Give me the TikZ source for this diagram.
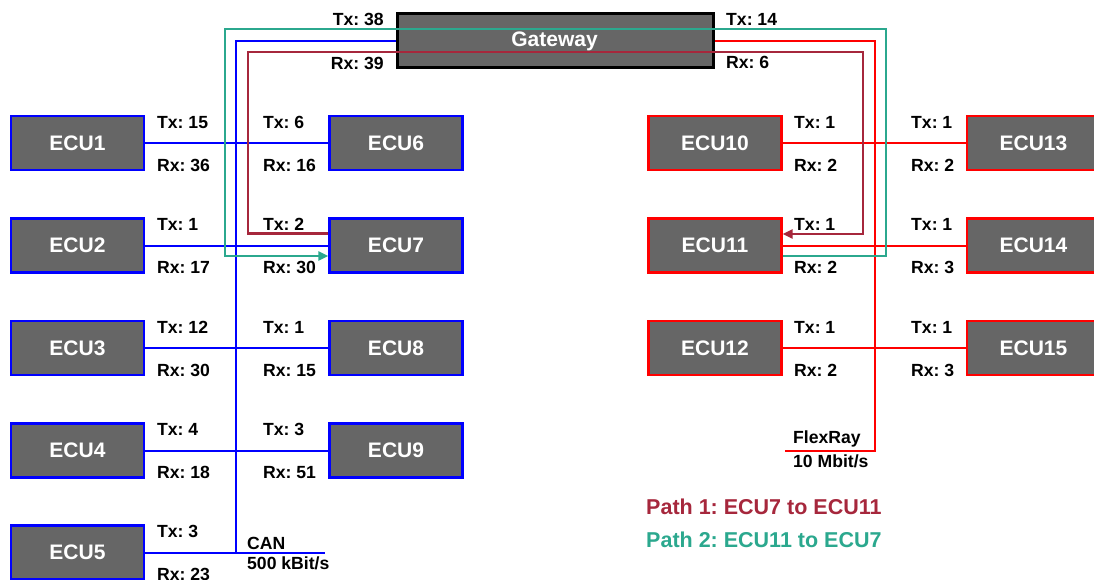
\documentclass[tikz,border=0pt]{standalone}
\usepackage{fontspec}
\setmainfont{Liberation Sans}
\usetikzlibrary{arrows.meta}

\definecolor{ecufill}{HTML}{666666}
\definecolor{canblue}{HTML}{0000FF}
\definecolor{frred}{HTML}{FF0000}
\definecolor{pathone}{HTML}{A6273C}
\definecolor{pathtwo}{HTML}{2BA88E}

\pgfdeclarelayer{bg}
\pgfsetlayers{bg,main}

\begin{document}
\frenchspacing
\begin{tikzpicture}[x=1pt,y=-1pt,
  ecu/.style={draw, line width=2.2pt, fill=ecufill, minimum width=133pt,
    minimum height=54pt, inner sep=0pt, text=white,
    font=\bfseries\fontsize{21}{25}\selectfont},
  canecu/.style={ecu, draw=canblue},
  frecu/.style={ecu, draw=frred},
  gwbox/.style={ecu, draw=black, minimum width=316pt},
  lbl/.style={anchor=base west, inner sep=0pt, font=\bfseries\fontsize{17.6}{20}\selectfont},
  lblr/.style={lbl, anchor=base east},
  legend/.style={anchor=base west, inner sep=0pt, font=\bfseries\fontsize{21.5}{25}\selectfont},
  canbus/.style={draw=canblue, line width=2pt},
  frbus/.style={draw=frred, line width=2pt},
  pone/.style={draw=pathone, line width=2.4pt, -{Triangle[length=10pt,width=9pt]}},
  ptwo/.style={draw=pathtwo, line width=2.4pt, -{Triangle[length=10pt,width=9pt]}},
]
\useasboundingbox (0,0) rectangle (1094,579);

% gateway
\node[gwbox] (GW) at (555.5,40.5) {};
\node[inner sep=0pt, anchor=base, text=white, font=\bfseries\fontsize{21}{25}\selectfont] (GWtext) at (554.5,46) {Gateway};

% CAN side ECUs
\node[canecu] (ECU1) at (77.5,143) {ECU1};
\node[canecu] (ECU2) at (77.5,245.5) {ECU2};
\node[canecu] (ECU3) at (77.5,348) {ECU3};
\node[canecu] (ECU4) at (77.5,450.5) {ECU4};
\node[canecu] (ECU5) at (77.5,552.5) {ECU5};
\node[canecu] (ECU6) at (396,143) {ECU6};
\node[canecu] (ECU7) at (396,245.5) {ECU7};
\node[canecu] (ECU8) at (396,348) {ECU8};
\node[canecu] (ECU9) at (396,450.5) {ECU9};

% FlexRay side ECUs
\node[frecu] (ECU10) at (715,143) {ECU10};
\node[frecu] (ECU11) at (715,245.5) {ECU11};
\node[frecu] (ECU12) at (715,348) {ECU12};
\node[frecu] (ECU13) at (1033.5,143) {ECU13};
\node[frecu] (ECU14) at (1033.5,245.5) {ECU14};
\node[frecu] (ECU15) at (1033.5,348) {ECU15};

% bus corner points
\coordinate (canTop) at (236,40.5);
\coordinate (canBot) at (236,552.5);
\coordinate (canEnd) at (325,552.5);
\coordinate (frTop) at (875,40.5);
\coordinate (frBot) at (875,450.5);
\coordinate (frEnd) at (785,450.5);

\begin{pgfonlayer}{bg}
  \draw[canbus] (GW.west) -- (canTop) -- (canBot) -- (canEnd);
  \draw[canbus] (ECU1.east) -- (ECU6.west);
  \draw[canbus] (ECU2.east) -- (ECU7.west);
  \draw[canbus] (ECU3.east) -- (ECU8.west);
  \draw[canbus] (ECU4.east) -- (ECU9.west);
  \draw[canbus] (ECU5.east) -- (canEnd);
  \draw[frbus] (GW.east) -- (frTop) -- (frBot) -- (frEnd);
  \draw[frbus] (ECU10.east) -- (ECU13.west);
  \draw[frbus] (ECU11.east) -- (ECU14.west);
  \draw[frbus] (ECU12.east) -- (ECU15.west);
\end{pgfonlayer}

% routing paths through the gateway
\coordinate (p1L) at (248,52);
\coordinate (p1R) at (863,52);
\coordinate (p2L) at (225,29);
\coordinate (p2R) at (886,29);
\draw[pone] ([yshift=12pt]ECU7.west) -| (p1L) -- (p1R) |- ([yshift=11.5pt]ECU11.east);
\draw[ptwo] ([yshift=-10.5pt]ECU11.east) -| (p2R) -- (p2L) |- ([yshift=-10.5pt]ECU7.west);

% gateway message counts
\node[lblr] (gwtxl) at (384,25) {Tx: 38};
\node[lblr] (gwrxl) at (384,69) {Rx: 39};
\node[lbl] (gwtxr) at (726,25) {Tx: 14};
\node[lbl] (gwrxr) at (726,68) {Rx: 6};

% message counts per ECU
\foreach \name/\x/\y/\tx/\rx in {
  a1/157/143/15/36, a2/157/245.5/1/17, a3/157/348/12/30, a4/157/450.5/4/18, a5/157/552.5/3/23,
  b1/263/143/6/16, b2/263/245.5/2/30, b3/263/348/1/15, b4/263/450.5/3/51,
  c1/794/143/1/2, c2/794/245.5/1/2, c3/794/348/1/2,
  d1/911/143/1/2, d2/911/245.5/1/3, d3/911/348/1/3}{
  \node[lbl] (tx\name) at (\x,\y-15) {Tx: \tx};
  \node[lbl] (rx\name) at (\x,\y+28) {Rx: \rx};
}

% bus labels (base anchor sits on the last line)
\node[lbl, align=left, font=\bfseries\fontsize{17.6}{20.5}\selectfont] (canlbl) at (247,569.5) {CAN\\500 kBit/s};
\node[lbl, align=left, font=\bfseries\fontsize{17.6}{24.5}\selectfont] (frlbl) at (793,467.5) {FlexRay\\10 Mbit/s};

% legend
\node[legend, text=pathone] (leg1) at (646,514.5) {Path 1: ECU7 to ECU11};
\node[legend, text=pathtwo] (leg2) at (646,547.5) {Path 2: ECU11 to ECU7};
\end{tikzpicture}
\end{document}
